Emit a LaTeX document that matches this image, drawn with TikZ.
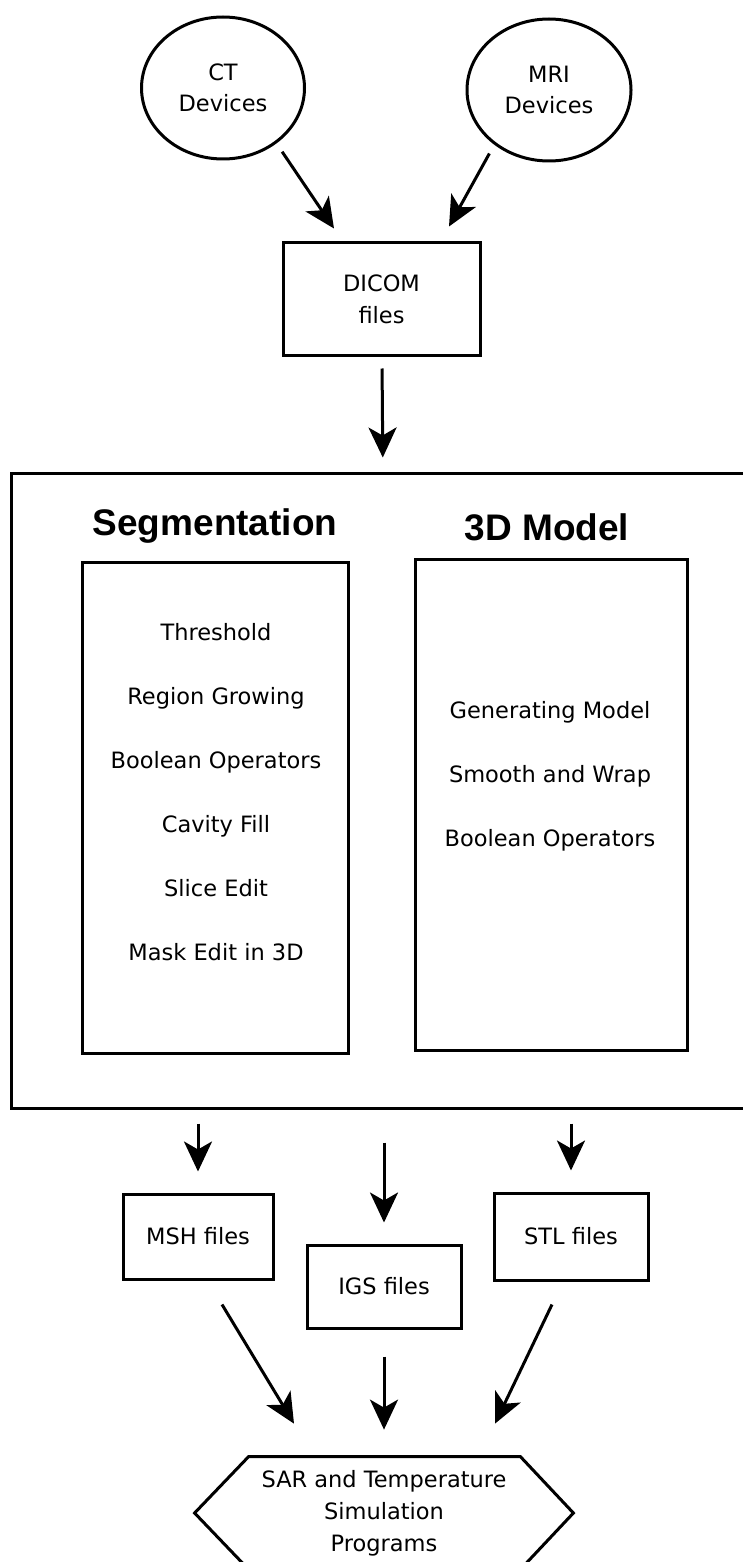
\documentclass[tikz,border=0pt]{standalone}
\usepackage{fontspec}
\setmainfont{DejaVu Sans}
\newfontfamily\titlefont{Liberation Sans}
\usetikzlibrary{arrows.meta,positioning,calc,shapes.geometric}
\tikzset{
    %Define standard arrow tip
    >={Stealth[length=15pt,width=14pt,inset=4pt]},
    %Define style for boxes
    box/.style={
           draw,
           rectangle,
           line width=1.5pt,
           inner sep=0pt,
           align=center,
           font=\fontsize{11.25}{16}\selectfont},
    %Define style for devices
    device/.style={
           draw,
           ellipse,
           line width=1.5pt,
           inner sep=0pt,
           align=center,
           font=\fontsize{11.25}{15.5}\selectfont},
    %Define style for titles
    title/.style={
           font=\titlefont\bfseries\fontsize{18.5}{22}\selectfont,
           inner sep=0pt,
           anchor=base},
    %Define style for list entries
    item/.style={
           font=\fontsize{11.25}{16}\selectfont,
           text height=8.2pt,
           text depth=0pt,
           inner sep=0pt},
    % Define arrow style
    pil/.style={
           ->,
           line width=1.5pt}
}

\begin{document}
\begin{tikzpicture}[x=0.5pt, y=-0.5pt, node distance=32pt]
	\useasboundingbox (0,0) rectangle (743,1562);
	\clip (0,0) rectangle (743,1562);

	% sources
	\node[device, minimum width=81.5pt, minimum height=71pt](ct-dev) at (223,88){CT\\Devices};
	\node[device, minimum width=82pt, minimum height=71pt](mri-dev) at (549,90){MRI\\Devices};
	\node[box, minimum width=98.5pt, minimum height=56pt](dicom-files) at (381.5,299){DICOM\\files};

	\path[pil] (ct-dev.-46) edge[shorten <=5pt] ([xshift=-23.75pt, yshift=6.5pt]dicom-files.north)
	           (mri-dev.-135) edge[shorten <=5pt] ([xshift=33.75pt, yshift=7.5pt]dicom-files.north);

	% main frame
	\node[box, minimum width=374.5pt, minimum height=317.5pt](main-frame) at (385.5,790.5){};

	\path[pil] (dicom-files) edge[shorten <=6pt, shorten >=7pt] (main-frame);

	% segmentation column
	\node[title](seg-title) at (215,535){Segmentation};
	\node[box, minimum width=133pt, minimum height=245.5pt](seg-box) at (215,807.5){};

	\node[item](seg-threshold) at (216,632){Threshold};
	\node[item, below of= seg-threshold](seg-region){Region Growing};
	\node[item, below of= seg-region](seg-boolean){Boolean Operators};
	\node[item, below of= seg-boolean](seg-cavity){Cavity Fill};
	\node[item, below of= seg-cavity](seg-slice){Slice Edit};
	\node[item, below of= seg-slice](seg-mask){Mask Edit in 3D};

	% 3d model column
	\node[title](model-title) at (547,540){3D Model};
	\node[box, minimum width=136pt, minimum height=245.5pt](model-box) at (551,804.5){};

	\node[item](model-generate) at (550,710){Generating Model};
	\node[item, below of= model-generate](model-smooth){Smooth and Wrap};
	\node[item, below of= model-smooth](model-boolean){Boolean Operators};

	% output files
	\node[box, minimum width=75pt, minimum height=42.5pt](msh-files) at (198,1236.5){MSH files};
	\node[box, minimum width=77pt, minimum height=41.5pt](igs-files) at (384,1286.5){IGS files};
	\node[box, minimum width=77pt, minimum height=43.5pt](stl-files) at (571,1236.5){STL files};

	\path[pil] (main-frame.south -| msh-files.north) edge[shorten <=7pt, shorten >=10.5pt] (msh-files.north)
	           (main-frame.south -| igs-files.north) edge[shorten <=16.5pt, shorten >=10.5pt] (igs-files.north)
	           (main-frame.south -| stl-files.north) edge[shorten <=7pt, shorten >=10.5pt] (stl-files.north);

	% simulation programs
	\node[minimum width=189pt, minimum height=56pt, inner sep=0pt, align=center,
	      font=\fontsize{11.25}{16}\selectfont](sim-prog) at (384,1513){SAR and Temperature\\Simulation\\Programs};
	\draw[line width=1.5pt] ([xshift=27pt]sim-prog.north west) -- ([xshift=-26.5pt]sim-prog.north east)
	      -- (sim-prog.east) -- ([xshift=-26.5pt]sim-prog.south east)
	      -- ([xshift=27pt]sim-prog.south west) -- (sim-prog.west) -- cycle;

	\path[pil] ([xshift=12pt, yshift=-12pt]msh-files.south) edge ([xshift=-45pt, yshift=16.5pt]sim-prog.north)
	           (igs-files.south) edge[shorten <=13.5pt, shorten >=13.5pt] (sim-prog.north)
	           ([xshift=-9.5pt, yshift=-11.5pt]stl-files.south) edge ([xshift=55.5pt, yshift=16.5pt]sim-prog.north);

\end{tikzpicture}
\end{document}
